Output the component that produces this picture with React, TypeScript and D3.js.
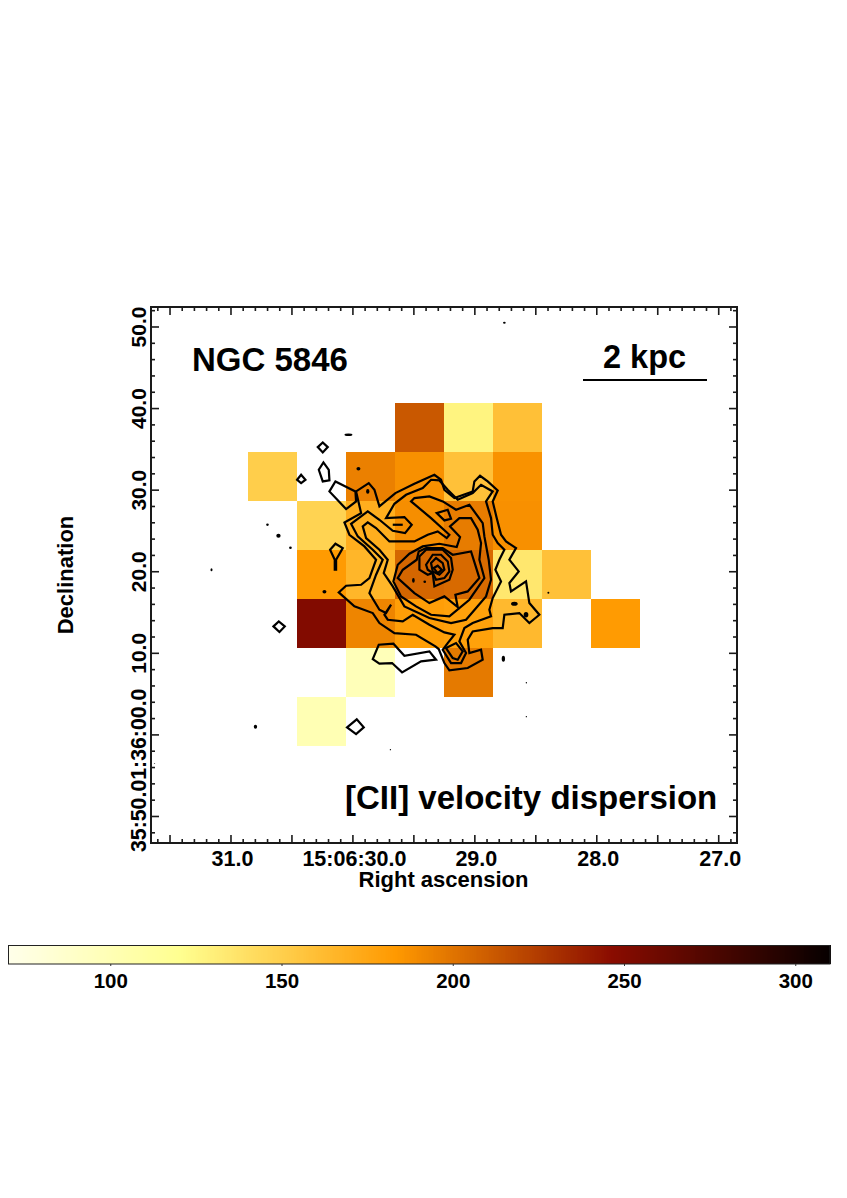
import React from 'react';
import * as d3 from 'd3';

const FONT = '"Liberation Sans", Arial, sans-serif';

// [column, row, velocity dispersion km/s] on the 6-arcsec spaxel grid
const spaxels: [number, number, number][] = [
  [3,0,212],[4,0,127],[5,0,159],
  [0,1,150],[2,1,194],[3,1,187],[4,1,158],[5,1,186],
  [1,2,147],[2,2,170],[3,2,188],[4,2,196],[5,2,187],
  [1,3,182],[2,3,165],[3,3,206],[4,3,204],[5,3,135],[6,3,158],
  [1,4,250],[2,4,192],[3,4,180],[4,4,178],[5,4,163],[7,4,182],
  [2,5,97],[4,5,197],
  [1,6,100],
];
const gridRA0 = 30.857, gridRAStep = 0.4016, gridDec0 = 40.7, gridDecStep = 6.005;

const cmapValues = [70, 120, 183, 246, 310];
const cmapColors = ['#ffffea', '#ffff90', '#ff9900', '#8a0c00', '#060000'];
const barTicks = [100, 150, 200, 250, 300];

// Contours in map-grid units (grid spans RA 30.193..28.389, Dec offset 34.95..6.77)
const contourGridRA: [number, number] = [30.1926, 28.389];
const contourGridDec: [number, number] = [34.95, 6.765];
const contourGridSize: [number, number] = [660, 690];

const contour1: number[][] = [[95,190],[80,125],[118,100],[135,120],[150,170],[198,130],[255,102],[315,75],[335,90],[345,120],[375,145],[430,125],[435,95],[452,78],[475,95],[505,122],[490,155],[502,205],[515,255],[530,275],[560,295],[540,330],[568,365],[540,400],[545,425],[590,395],[600,460],[630,495],[600,520],[570,490],[525,495],[520,535],[490,535],[430,545],[415,570],[420,610],[455,600],[460,630],[415,655],[360,662],[345,640],[328,598],[318,590],[260,555],[195,550],[150,520],[130,490],[75,470],[28,428],[50,408],[95,405],[120,385],[140,330],[105,290],[60,255],[45,218]];
const contour2: number[][] = [[170,205],[195,162],[230,135],[280,115],[305,90],[330,92],[355,120],[385,150],[430,130],[455,105],[490,125],[470,155],[485,205],[490,255],[505,280],[525,300],[510,330],[498,360],[515,395],[490,445],[480,480],[485,500],[430,520],[405,535],[390,575],[410,610],[395,640],[365,640],[340,600],[355,580],[375,555],[345,548],[300,525],[250,495],[220,515],[175,510],[165,495],[185,465],[170,490],[150,480],[120,430],[140,375],[160,330],[130,300],[85,260],[65,222],[115,185],[150,210],[190,243],[227,250],[247,225],[225,202]];
const contour3: number[][] = [[340,155],[380,180],[420,165],[460,220],[465,260],[478,330],[485,390],[470,440],[410,510],[365,520],[300,505],[225,470],[190,410],[163,370],[175,330],[150,300],[110,265],[100,230],[115,218],[140,235],[180,275],[255,275],[295,255],[325,245],[352,265],[360,255],[305,205],[245,155],[255,145],[300,140]];
const contour4: number[][] = [[362,230],[392,262],[382,292],[330,282],[280,290],[240,312],[205,345],[192,395],[215,440],[260,470],[305,495],[360,500],[420,450],[465,385],[450,330],[455,280],[445,240],[425,205],[390,205]];
const contour5: number[][] = [[205,385],[220,360],[262,330],[268,305],[290,295],[340,295],[370,315],[425,305],[450,385],[415,425],[378,435],[385,472],[345,440],[300,460],[255,430]];
const contour6: number[][] = [[270,320],[290,300],[340,300],[365,325],[370,360],[360,390],[315,410],[310,370],[295,375],[270,360]];
const contour7: number[][] = [[290,345],[310,315],[335,315],[355,335],[360,365],[345,385],[320,390],[310,370],[295,360]];
const contour8: number[][] = [[305,340],[320,325],[340,340],[345,360],[330,375],[310,365]];
const contour9: number[][] = [[313,355],[325,348],[337,360],[325,370]];
const contourNorth: number[][] = [[322,190],[355,180],[365,207],[345,212]];
const contourSouth: number[][] = [[350,595],[380,580],[400,605],[385,630],[370,625]];
const contourWhite: number[][] = [[130,628],[148,585],[192,582],[225,618],[300,605],[320,630],[275,635],[218,668],[188,640],[150,642]];
const contourNW1: number[][] = [[0,125],[18,95],[78,125],[80,155],[50,178]];
const contourNW2: number[][] = [[-32,60],[-18,38],[-2,60],[0,92],[-20,95]];
const contourNW3: number[][] = [[-97,90],[-85,75],[-72,90],[-85,100]];
const contourNW4: number[][] = [[-35,-8],[-20,-22],[-5,-8],[-20,8]];
const contourDrop: number[][] = [[2,300],[18,282],[40,295],[20,330],[20,360],[16,360],[16,330]];
const contourW: number[][] = [[-168,530],[-152,515],[-134,530],[-150,547]];
const contourS: number[][] = [[53,833],[82,809],[103,833],[80,853]];
const closedContours = [contour1, contour2, contour3, contour4, contour5, contour6, contour7, contour8, contour9, contourNorth, contourSouth, contourWhite, contourNW1, contourNW2, contourNW3, contourNW4, contourDrop, contourW, contourS];
const openContours: number[][][] = [[[190,225],[220,225]]];
// small isolated contours: [x, y, radiusX, radiusY] in map-grid units
const contourSpots: number[][] = [[525,-381,4,3],[-354,360,3,4.5],[-186,225,4,3.5],[-153,258,6.5,6],[-117,294,4,4],[-15,426,6,5],[87,57,6,5],[115,125,5,7],[57,-45,12,4],[-222,831,5,6],[183,900,2,2],[-525,942,2,1],[591,699,2,2],[591,801,2,2],[522,627,5,9],[555,462,10,6],[590,495,7,8],[657,429,3,3],[252,392,4,7],[286,396,4,3.5],[252,497,3,3]];

const raLabels: [number, string][] = [[31,'31.0'],[30,'15:06:30.0'],[29,'29.0'],[28,'28.0'],[27,'27.0']];
const decLabels: [number, string][] = [[50,'50.0'],[40,'40.0'],[30,'30.0'],[20,'20.0'],[10,'10.0']];
const decBottomLabel = '35:50.01:36:00.0';
const raDomain: [number, number] = [31.656, 26.85];
const decDomain: [number, number] = [52.45, -13.25];

export default function App() {
  const x = d3.scaleLinear().domain(raDomain).range([151, 737]);
  const y = d3.scaleLinear().domain(decDomain).range([307, 843]);
  const color = d3.scaleLinear<string>().domain(cmapValues).range(cmapColors).interpolate(d3.interpolateRgb);
  const bar = d3.scaleLinear().domain([70, 310]).range([8, 830]);
  const cx = d3.scaleLinear().domain([0, contourGridSize[0]]).range([x(contourGridRA[0]), x(contourGridRA[1])]);
  const cy = d3.scaleLinear().domain([0, contourGridSize[1]]).range([y(contourGridDec[0]), y(contourGridDec[1])]);
  const line = d3.line<number[]>().x(d => cx(d[0])).y(d => cy(d[1]));
  const closed = d3.line<number[]>().x(d => cx(d[0])).y(d => cy(d[1])).curve(d3.curveLinearClosed);

  const raMinor = d3.range(317, 268, -1).map(v => v / 10).filter(v => v > 26.85 && v < 31.656);
  const decMinor = d3.range(52, -14, -2);
  const barSlices = d3.range(70, 310, 0.5);
  const frame = '#1a1a1a';

  return (
    <svg width={847} height={1198} viewBox="0 0 847 1198" style={{ position: 'absolute', left: 0, top: 0, background: '#fff' }} fontFamily={FONT} fontWeight="bold" fill="#000">
      {spaxels.map(([c, r, v]) => (
        <rect key={`${c}-${r}`} x={x(gridRA0 - c * gridRAStep)} y={y(gridDec0 - r * gridDecStep)}
          width={x(gridRA0 - (c + 1) * gridRAStep) - x(gridRA0 - c * gridRAStep)}
          height={y(gridDec0 - (r + 1) * gridDecStep) - y(gridDec0 - r * gridDecStep)}
          fill={color(v)} shapeRendering="crispEdges" />
      ))}
      <g fill="none" stroke="#000" strokeWidth={2.2} strokeLinejoin="miter" strokeMiterlimit={3}>
        {closedContours.map((c, i) => <path key={i} d={closed(c) ?? ''} />)}
        {openContours.map((c, i) => <path key={i} d={line(c) ?? ''} />)}
      </g>
      <g fill="#000">
        {contourSpots.map(([a, b, rx, ry], i) => (
          <ellipse key={i} cx={cx(a)} cy={cy(b)} rx={cx(rx) - cx(0)} ry={cy(ry) - cy(0)} />
        ))}
      </g>

      <rect x={151} y={307} width={586} height={536} fill="none" stroke={frame} strokeWidth={2} />
      <g stroke={frame} strokeWidth={1.6}>
        {raMinor.map(v => {
          const major = Math.abs(v * 2 - Math.round(v * 2)) < 1e-6;
          const len = major ? 8 : 4;
          return (
            <g key={v}>
              <line x1={x(v)} x2={x(v)} y1={843} y2={843 - len} />
              <line x1={x(v)} x2={x(v)} y1={307} y2={307 + len} />
            </g>
          );
        })}
        {decMinor.map(v => {
          const len = v % 10 === 0 ? 8 : 4;
          return (
            <g key={v}>
              <line y1={y(v)} y2={y(v)} x1={151} x2={151 + len} />
              <line y1={y(v)} y2={y(v)} x1={737} x2={737 - len} />
            </g>
          );
        })}
      </g>

      {raLabels.map(([v, t]) => (
        <text key={t} x={x(v) + 1.5} y={866} textAnchor="middle" fontSize={21.5}>{t}</text>
      ))}
      {decLabels.map(([v, t]) => (
        <text key={t} transform={`translate(146,${y(v)}) rotate(-90)`} textAnchor="middle" fontSize={21}>{t}</text>
      ))}
      <text transform="translate(146,852) rotate(-90)" textAnchor="start" fontSize={21.3}>{decBottomLabel}</text>
      <text x={443.5} y={887} textAnchor="middle" fontSize={22}>Right ascension</text>
      <text transform="translate(73,575) rotate(-90)" textAnchor="middle" fontSize={22}>Declination</text>

      <text x={192} y={371} fontSize={33}>NGC 5846</text>
      <text x={603} y={368} fontSize={32.5}>2 kpc</text>
      <line x1={583} x2={707} y1={380} y2={380} stroke="#000" strokeWidth={2} />
      <text x={345} y={809} fontSize={33}>[CII] velocity dispersion</text>

      <g shapeRendering="crispEdges">
        {barSlices.map(v => (
          <rect key={v} x={bar(v)} y={945} width={bar(v + 0.5) - bar(v) + 0.6} height={19} fill={color(v)} />
        ))}
      </g>
      <rect x={8.5} y={945.5} width={821.5} height={18.5} fill="none" stroke="#222" strokeWidth={1} />
      {barTicks.map(v => (
        <g key={v}>
          <line x1={bar(v)} x2={bar(v)} y1={964} y2={966} stroke="#333" strokeWidth={1} />
          <text x={bar(v)} y={988} textAnchor="middle" fontSize={20.5}>{v}</text>
        </g>
      ))}
    </svg>
  );
}
